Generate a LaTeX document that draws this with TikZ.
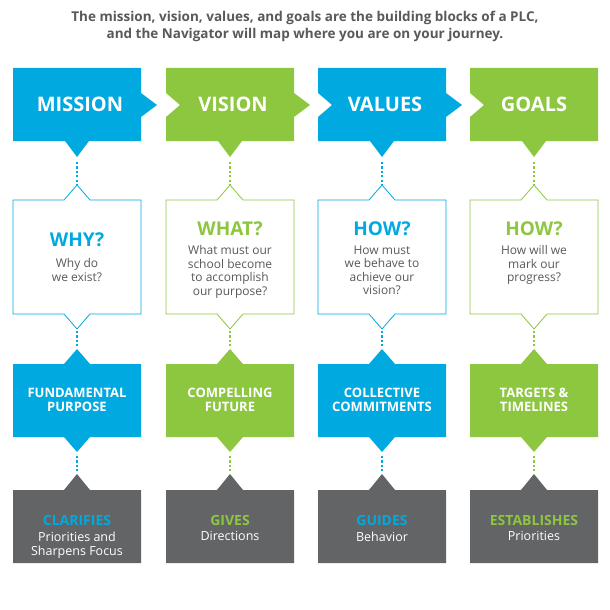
\documentclass[tikz,border=0pt]{standalone}
\usepackage{fontspec}
\setmainfont{Open Sans}
\definecolor{cb}{RGB}{0,169,224}
\definecolor{cg}{RGB}{141,198,63}
\definecolor{cgr}{RGB}{99,100,102}
\definecolor{ctx}{RGB}{88,89,91}
\begin{document}
\begin{tikzpicture}[x=1pt,y=-1pt,
 hd/.style={text=white,font=\bfseries\fontsize{20}{22}\selectfont},
 q/.style={font=\bfseries\fontsize{19}{21}\selectfont},
 bd/.style={text=ctx,align=center,font=\fontsize{12}{13.5}\selectfont},
 mid/.style={text=white,align=center,font=\bfseries\fontsize{13}{14}\selectfont},
 gt/.style={align=center,text=white,font=\fontsize{12.5}{14}\selectfont},
 dots/.style={line width=2.2pt,dash pattern=on 2.2pt off 2.2pt}]
\useasboundingbox (0,0) rectangle (610,610);
\node[text=ctx,align=center,font=\bfseries\fontsize{13.5}{17}\selectfont] (title) at (305,26)
 {The mission, vision, values, and goals are the building blocks of a PLC,\\and the Navigator will map where you are on your journey.};
\foreach \L/\col/\hdt/\qt/\bdt/\mt/\gh/\gb/\ar/\nt [count=\i] in {
 13/cb/MISSION/WHY?/{Why do\\we exist?}/{FUNDAMENTAL\\PURPOSE}/CLARIFIES/{Priorities and\\Sharpens Focus}/1/0,
 166/cg/VISION/WHAT?/{What must our\\school become\\to accomplish\\our purpose?}/{COMPELLING\\FUTURE}/GIVES/Directions/1/1,
 318/cb/VALUES/HOW?/{How must\\we behave to\\achieve our\\vision?}/{COLLECTIVE\\COMMITMENTS}/GUIDES/Behavior/1/1,
 470/cg/GOALS/HOW?/{How will we\\mark our\\progress?}/{TARGETS \&\\TIMELINES}/ESTABLISHES/Priorities/0/1}{
 \pgfmathsetmacro\R{\L+128}\pgfmathsetmacro\C{\L+64}
 % top box
 \fill[\col] (\L,68) -- (\R,68) -- (\R,93)
   \ifnum\ar=1 -- (\R+16,105) \fi -- (\R,117) -- (\R,141) -- (\C+12,141) -- (\C,157) -- (\C-12,141) -- (\L,141)
   \ifnum\nt=1 -- (\L,117) -- (\L+14,105) -- (\L,93) \fi -- cycle;
 \node[hd] (h\i) at (\C+\ifnum\ar=1 3\else 0\fi,104) {\hdt};
 % white box
 \draw[\col,line width=0.8pt,fill=white] (\L,200) -- (\C-13,200) -- (\C,185) -- (\C+13,200) -- (\R,200) -- (\R,314)
   -- (\C+13,314) -- (\C,329) -- (\C-13,314) -- (\L,314) -- cycle;
 \node[q,text=\col] (q\i) at (\C,\ifnum\i=1 240\else 229\fi) {\qt};
 \node[bd,anchor=north] (b\i) at (\C,\ifnum\i=1 255\else 242\fi) {\bdt};
 % middle box
 \fill[\col] (\L,364) -- (\C-13,364) -- (\C,349) -- (\C+13,364) -- (\R,364) -- (\R,437)
   -- (\C+13,437) -- (\C,452) -- (\C-13,437) -- (\L,437) -- cycle;
 \node[mid] (m\i) at (\C,400) {\mt};
 % gray box
 \fill[cgr] (\L,490) -- (\C-13,490) -- (\C,474) -- (\C+13,490) -- (\R,490) -- (\R,563) -- (\L,563) -- cycle;
 \node[gt,anchor=south,text=\col,font=\bfseries\fontsize{14}{15}\selectfont] (g\i) at (\C,\ifnum\i=1 529\else 529\fi) {\gh};
 \node[gt,anchor=north] (gb\i) at (\C,528) {\gb};
 % dotted connectors
 \coordinate (a\i) at (\C,162); \coordinate (b1\i) at (\C,185);
 \coordinate (c\i) at (\C,331); \coordinate (d\i) at (\C,347);
 \coordinate (e\i) at (\C,456); \coordinate (f\i) at (\C,472);
 \draw[\col,dots] (a\i) -- (b1\i);
 \draw[\col,dots] (c\i) -- (d\i);
 \draw[\col,dots] (e\i) -- (f\i);
}
\end{tikzpicture}
\end{document}
